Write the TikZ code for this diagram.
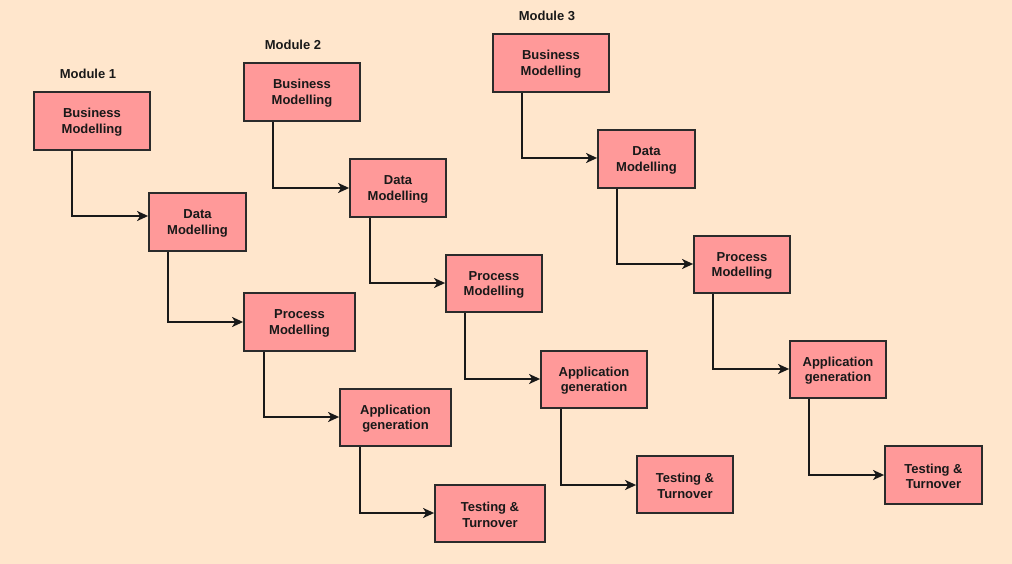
\documentclass[tikz,border=0pt]{standalone}
\usepackage{fontspec}
\setmainfont{Liberation Sans}
\usetikzlibrary{arrows.meta}
\definecolor{bgc}{HTML}{FFE6CC}
\definecolor{boxfill}{HTML}{FF9999}
\definecolor{boxline}{HTML}{2B2B2B}
\tikzset{
  stagebox/.style={draw=boxline, fill=boxfill, line width=1.8pt, inner sep=0pt,
    align=center, font=\fontsize{13}{15.5}\selectfont\bfseries, text=black!90},
  modlabel/.style={font=\fontsize{13}{15.5}\selectfont\bfseries, text=black!90, inner sep=0pt},
  flow/.style={draw=black!90, line width=1.6pt, -{Stealth[length=11pt,width=10pt,inset=3pt]}}
}
\newcommand{\stage}[7]{\node[stagebox, minimum width=#4pt, minimum height=#5pt] (#1) at (#2,#3) {\rule{0pt}{12pt}#6\\#7};}
\begin{document}
\begin{tikzpicture}[x=1pt,y=-1pt]
\useasboundingbox (0,0) rectangle (1012,564);
\fill[bgc] (0,0) rectangle (1012,564);

% labels
\node[modlabel] (m1) at (88,74) {Module 1};
\node[modlabel] (m2) at (293,45) {Module 2};
\node[modlabel] (m3) at (547,16) {Module 3};

% Module 1
\stage{b1}{92}{121}{116}{58}{Business}{Modelling}
\stage{d1}{197.5}{222}{97}{58}{Data}{Modelling}
\stage{p1}{299.5}{322}{111}{58}{Process}{Modelling}
\stage{a1}{395.5}{417.5}{111}{57}{Application}{generation}
\stage{t1}{490}{513.5}{110}{57}{Testing \&}{Turnover}

% Module 2
\stage{b2}{302}{92}{116}{58}{Business}{Modelling}
\stage{d2}{398}{188}{96}{58}{Data}{Modelling}
\stage{p2}{494}{283.5}{96}{57}{Process}{Modelling}
\stage{a2}{594}{379.5}{106}{57}{Application}{generation}
\stage{t2}{685}{484.5}{96}{57}{Testing \&}{Turnover}

% Module 3
\stage{b3}{551}{63}{116}{58}{Business}{Modelling}
\stage{d3}{646.5}{159}{97}{58}{Data}{Modelling}
\stage{p3}{742}{264.5}{96}{57}{Process}{Modelling}
\stage{a3}{838}{369.5}{96}{57}{Application}{generation}
\stage{t3}{933.5}{475}{97}{58}{Testing \&}{Turnover}

% connectors
\draw[flow] (b1.south -| 72,0) |- (d1.west |- 0,216);
\draw[flow] (d1.south -| 168,0) |- (p1.west |- 0,322);
\draw[flow] (p1.south -| 264,0) |- (a1.west |- 0,417);
\draw[flow] (a1.south -| 360,0) |- (t1.west |- 0,513);

\draw[flow] (b2.south -| 273,0) |- (d2.west |- 0,188);
\draw[flow] (d2.south -| 370,0) |- (p2.west |- 0,283);
\draw[flow] (p2.south -| 465,0) |- (a2.west |- 0,379);
\draw[flow] (a2.south -| 561,0) |- (t2.west |- 0,485);

\draw[flow] (b3.south -| 522,0) |- (d3.west |- 0,158);
\draw[flow] (d3.south -| 617,0) |- (p3.west |- 0,264);
\draw[flow] (p3.south -| 713,0) |- (a3.west |- 0,369);
\draw[flow] (a3.south -| 809,0) |- (t3.west |- 0,475);
\end{tikzpicture}
\end{document}
